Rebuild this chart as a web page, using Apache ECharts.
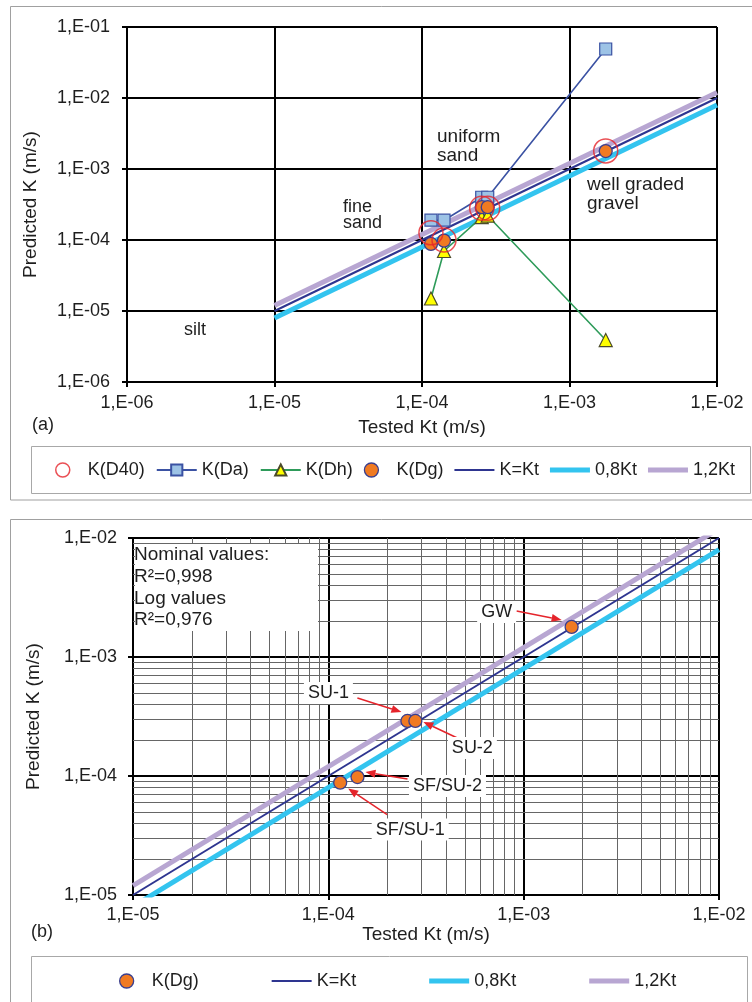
<!DOCTYPE html>
<html>
<head>
<meta charset="utf-8">
<script src="https://cdn.jsdelivr.net/npm/echarts@6/dist/echarts.min.js"></script>
<style>
html,body{margin:0;padding:0;background:#fff;}
#c{width:752px;height:1002px;}
</style>
</head>
<body>
<div id="c"></div>
<script>
// ---------- data ----------
const testedKt = [1.15e-4, 1.41e-4, 2.54e-4, 2.79e-4, 1.76e-3];
const kD40 = [1.26e-4, 1.0e-4, 2.8e-4, 2.8e-4, 1.8e-3];
const kDa  = [1.9e-4, 1.9e-4, 4.0e-4, 4.0e-4, 4.9e-2];
const kDh  = [1.5e-5, 7.0e-5, 2.1e-4, 2.2e-4, 3.9e-6];
const kDg  = [8.8e-5, 9.8e-5, 2.9e-4, 2.9e-4, 1.79e-3];
const refX  = [1e-5, 1e-2];
const refKt = [1e-5, 1e-2];
const ref08 = [8e-6, 8e-3];
const ref12 = [1.2e-5, 1.2e-2];
const sampleNames = ['SF/SU-1', 'SF/SU-2', 'SU-1', 'SU-2', 'GW'];
const xTicksA = ['1,E-06', '1,E-05', '1,E-04', '1,E-03', '1,E-02'];
const yTicksA = ['1,E-06', '1,E-05', '1,E-04', '1,E-03', '1,E-02', '1,E-01'];
const xTicksB = ['1,E-05', '1,E-04', '1,E-03', '1,E-02'];
const yTicksB = ['1,E-05', '1,E-04', '1,E-03', '1,E-02'];
const legendA = ['K(D40)', 'K(Da)', 'K(Dh)', 'K(Dg)', 'K=Kt', '0,8Kt', '1,2Kt'];
const legendB = ['K(Dg)', 'K=Kt', '0,8Kt', '1,2Kt'];
const statsText = ['Nominal values:', 'R²=0,998', 'Log values', 'R²=0,976'];

// ---------- styles ----------
const FONT = 'Liberation Sans, Arial, sans-serif';
const TXT = '#1e1e1e';
const C_LAV = '#B8A6D2', C_CYAN = '#33C4EF', C_NAVY = '#2E3590';
const C_DA = '#3B52A3', C_DAFILL = '#9DC3E6';
const C_DH = '#2E9B5A', C_DHFILL = '#FFFF00';
const C_DG = '#F07A22', C_RED = '#E5242B', C_DGB = '#3A3F8F';

const zip = (a, b) => a.map((v, i) => [v, b[i]]);
const fmt = (labels, minExp) => v => labels[Math.round(Math.log10(v)) - minExp] || '';

function logAxis(min, max, labels, minExp, margin, name, nameGap, gridIndex) {
  return {
    type: 'log', logBase: 10, min: min, max: max, gridIndex: gridIndex,
    name: name, nameLocation: 'middle', nameGap: nameGap,
    nameTextStyle: {fontFamily: FONT, fontSize: 19, color: TXT},
    axisLine: {show: true, onZero: false, lineStyle: {color: '#000', width: 2}},
    axisTick: {show: true, length: 5, lineStyle: {color: '#000', width: 2}},
    axisLabel: {show: true, margin: margin, fontFamily: FONT, fontSize: 18, color: TXT,
      formatter: fmt(labels, minExp), showMinLabel: true, showMaxLabel: true},
    splitLine: {show: true, showMinLine: true, showMaxLine: true, lineStyle: {color: '#000', width: 2}},
    minorTick: {show: false}, minorSplitLine: {show: false}
  };
}

// minor gridline positions (2..9 per decade) for panel b
const minorVals = [];
for (let e = -5; e <= -3; e++) {
  for (let m = 2; m <= 9; m++) minorVals.push(m * Math.pow(10, e));
}
const bMin = 1e-5, bMax = 1e-2;
const minorSegs = minorVals.map(v => ({coords: [[v, bMin], [v, bMax]]}))
  .concat(minorVals.map(v => ({coords: [[bMin, v], [bMax, v]]})));

function refSeries(name, ys, color, width, gi) {
  return {name: name, type: 'line', xAxisIndex: gi, yAxisIndex: gi, data: zip(refX, ys),
    symbol: 'none', showSymbol: false, clip: true, silent: true, z: 2,
    lineStyle: {color: color, width: width}, itemStyle: {color: color}};
}
function dgSeries(gi) {
  return {name: 'K(Dg)', type: 'scatter', xAxisIndex: gi, yAxisIndex: gi, data: zip(testedKt, kDg),
    symbol: 'circle', symbolSize: 13, z: 4,
    itemStyle: {color: C_DG, borderColor: C_DGB, borderWidth: 1.3, opacity: 1}};
}
function legendItems(names) {
  const special = {
    'K(D40)': {icon: 'circle', itemStyle: {color: 'rgba(255,255,255,0)', borderColor: C_RED, borderWidth: 1.5}},
    'K(Dg)': {icon: 'circle', itemStyle: {color: C_DG, borderColor: C_DGB, borderWidth: 1.3}},
    'K=Kt': {icon: 'path://M0,0L40,0L40,2L0,2Z'},
    '0,8Kt': {icon: 'path://M0,0L40,0L40,5L0,5Z'},
    '1,2Kt': {icon: 'path://M0,0L40,0L40,5L0,5Z'}
  };
  return names.map(n => Object.assign({name: n}, special[n] || {}));
}

const option = {
  animation: false,
  backgroundColor: '#fff',
  grid: [
    {left: 127, top: 27, width: 590, height: 355, containLabel: false},
    {left: 133, top: 538, width: 586, height: 357, containLabel: false}
  ],
  xAxis: [
    logAxis(1e-6, 1e-2, xTicksA, -6, 12, 'Tested Kt (m/s)', 36, 0),
    logAxis(1e-5, 1e-2, xTicksB, -5, 11, 'Tested Kt (m/s)', 30, 1)
  ],
  yAxis: [
    logAxis(1e-6, 1e-1, yTicksA, -6, 17, 'Predicted K (m/s)', 87, 0),
    logAxis(1e-5, 1e-2, yTicksB, -5, 16, 'Predicted K (m/s)', 90, 1)
  ],
  legend: [
    {data: legendItems(legendA), left: 55, top: 461, width: 730, padding: 0, itemWidth: 40, itemHeight: 14, itemGap: 11,
      selectedMode: false, textStyle: {fontFamily: FONT, fontSize: 18, color: TXT}},
    {data: legendItems(legendB), left: 119, top: 972, width: 630, padding: 0, itemWidth: 40, itemHeight: 14, itemGap: 73,
      selectedMode: false, textStyle: {fontFamily: FONT, fontSize: 18, color: TXT}}
  ],
  series: [
    refSeries('1,2Kt', ref12, C_LAV, 5, 0),
    refSeries('0,8Kt', ref08, C_CYAN, 5, 0),
    refSeries('K=Kt', refKt, C_NAVY, 2, 0),
    {name: 'K(Da)', type: 'line', xAxisIndex: 0, yAxisIndex: 0, data: zip(testedKt, kDa),
      symbol: 'rect', symbolSize: 12, showSymbol: true, z: 3,
      lineStyle: {color: C_DA, width: 1.6},
      itemStyle: {color: C_DAFILL, borderColor: C_DA, borderWidth: 1.2}},
    {name: 'K(Dh)', type: 'line', xAxisIndex: 0, yAxisIndex: 0, data: zip(testedKt, kDh),
      symbol: 'triangle', symbolSize: 13, showSymbol: true, z: 3,
      lineStyle: {color: C_DH, width: 1.6},
      itemStyle: {color: C_DHFILL, borderColor: '#4A4A2A', borderWidth: 1.2}},
    dgSeries(0),
    {name: 'K(D40)', type: 'scatter', xAxisIndex: 0, yAxisIndex: 0, data: zip(testedKt, kD40),
      symbol: 'circle', symbolSize: 24, z: 5,
      itemStyle: {color: 'rgba(255,255,255,0)', borderColor: C_RED, borderWidth: 1.5}},
    // minor grid for panel b
    {name: 'minor', type: 'lines', coordinateSystem: 'cartesian2d', xAxisIndex: 1, yAxisIndex: 1,
      polyline: false, silent: true, z: 1, symbol: ['none', 'none'],
      lineStyle: {color: '#666666', width: 1, opacity: 1, curveness: 0},
      data: minorSegs},
    refSeries('1,2Kt', ref12, C_LAV, 5, 1),
    refSeries('0,8Kt', ref08, C_CYAN, 5, 1),
    refSeries('K=Kt', refKt, C_NAVY, 2, 1),
    dgSeries(1)
  ]
};

const chart = echarts.init(document.getElementById('c'), null, {renderer: 'canvas'});
chart.setOption(option);

// ---------- graphics ----------
const g = [];
g.push({type: 'rect', shape: {x: 10.5, y: 6.5, width: 760, height: 493.5}, style: {fill: null, stroke: '#a0a0a0', lineWidth: 1}, z: 0, silent: true});
g.push({type: 'rect', shape: {x: 31.5, y: 446.5, width: 719, height: 47}, style: {fill: null, stroke: '#a8a8a8', lineWidth: 1}, z: 0, silent: true});
g.push({type: 'rect', shape: {x: 10.5, y: 519.5, width: 760, height: 500}, style: {fill: null, stroke: '#a0a0a0', lineWidth: 1}, z: 0, silent: true});
g.push({type: 'rect', shape: {x: 31.5, y: 956.5, width: 716, height: 60}, style: {fill: null, stroke: '#a8a8a8', lineWidth: 1}, z: 0, silent: true});

function txt(text, x, y, align, size, extra) {
  return {type: 'text', z: 60, silent: true,
    style: Object.assign({text: text, x: x, y: y, align: align || 'left', verticalAlign: 'middle',
      font: (size || 18) + 'px ' + FONT, fill: TXT}, extra || {})};
}
g.push(txt('(a)', 43, 425, 'center', 18));
g.push(txt('(b)', 42, 932, 'center', 18));
g.push(txt('fine', 343, 207, 'left', 18));
g.push(txt('sand', 343, 223, 'left', 18));
g.push(txt('uniform', 437, 137, 'left', 19));
g.push(txt('sand', 437, 156, 'left', 19));
g.push(txt('well graded', 587, 185, 'left', 19));
g.push(txt('gravel', 587, 204, 'left', 19));
g.push(txt('silt', 184, 330, 'left', 18));

g.push({type: 'rect', shape: {x: 135, y: 544, width: 183, height: 87}, style: {fill: '#fff', stroke: null}, z: 50, silent: true});
statsText.forEach((t, i) => g.push(txt(t, 134, 555 + i * 21.7, 'left', 19)));

const annot = [
  {lab: [70, 47], s: [47, 32], e: [8, 6]},
  {lab: [90, 9], s: [50, 2], e: [8, -5]},
  {lab: [-79, -28], s: [-50, -23], e: [-6, -9]},
  {lab: [57, 27], s: [42, 17], e: [8, 1]},
  {lab: [-75, -15], s: [-55, -16], e: [-10, -7]}
];
testedKt.forEach((x, i) => {
  const p = chart.convertToPixel({gridIndex: 1}, [x, kDg[i]]);
  const a = annot[i];
  const sx = p[0] + a.s[0], sy = p[1] + a.s[1], ex = p[0] + a.e[0], ey = p[1] + a.e[1];
  const len = Math.hypot(ex - sx, ey - sy), dx = (ex - sx) / len, dy = (ey - sy) / len;
  const bx = ex - dx * 10, by = ey - dy * 10, nx = -dy * 4, ny = dx * 4;
  g.push({type: 'line', z: 55, silent: true, shape: {x1: sx, y1: sy, x2: bx, y2: by}, style: {stroke: C_RED, lineWidth: 1.5}});
  g.push({type: 'polygon', z: 55, silent: true, shape: {points: [[ex, ey], [bx + nx, by + ny], [bx - nx, by - ny]]}, style: {fill: C_RED}});
  g.push(txt(sampleNames[i], p[0] + a.lab[0], p[1] + a.lab[1], 'center', 18, {backgroundColor: '#fff', padding: [2, 4]}));
});

chart.setOption({graphic: {elements: g}});
</script>
</body>
</html>
